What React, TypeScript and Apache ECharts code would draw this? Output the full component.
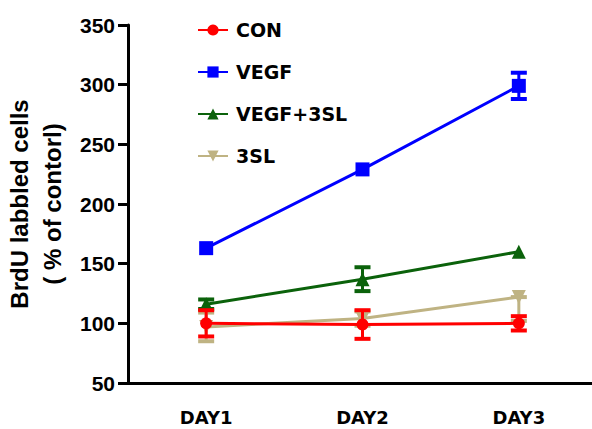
import React, { useEffect, useRef } from "react";
import * as echarts from "echarts";

const categories = ["DAY1", "DAY2", "DAY3"];
const yTicks = [50, 100, 150, 200, 250, 300, 350];

const conMean = [100, 99, 100];
const conErrUp = [11, 12, 6];
const conErrDown = [11, 12, 6];

const vegfMean = [163, 229, 299];
const vegfErrUp = [0, 0, 11];
const vegfErrDown = [0, 0, 11];

const combMean = [116, 137, 160];
const combErrUp = [4, 10, 0];
const combErrDown = [4, 10, 0];

const slMean = [97, 104, 122];
const slErrUp = [12, 6, 0];
const slErrDown = [12, 6, 20];

const seriesNames = ["CON", "VEGF", "VEGF+3SL", "3SL"];
const colors = ["#ff0000", "#0000ff", "#0b620b", "#bfb383"];

function errData(mean: number[], up: number[], down: number[]) {
  return mean.map((m, i) => [i, m - down[i], m + up[i]]);
}

function errSeries(name: string, color: string, data: number[][], z: number) {
  return {
    type: "custom",
    name: name + " err",
    z,
    data,
    renderItem: (params: any, api: any) => {
      const lo = api.coord([api.value(0), api.value(1)]);
      const hi = api.coord([api.value(0), api.value(2)]);
      const x = lo[0];
      const hw = 8;
      const style = { stroke: color, lineWidth: 3 };
      const children: any[] = [
        { type: "line", shape: { x1: x, y1: lo[1], x2: x, y2: hi[1] }, style },
      ];
      if (api.value(2) !== api.value(1)) {
        children.push({ type: "line", shape: { x1: x - hw, y1: lo[1], x2: x + hw, y2: lo[1] }, style: { stroke: color, lineWidth: 4 } });
        children.push({ type: "line", shape: { x1: x - hw, y1: hi[1], x2: x + hw, y2: hi[1] }, style: { stroke: color, lineWidth: 4 } });
      }
      return { type: "group", children };
    },
  };
}

export default function App() {
  const ref = useRef<HTMLDivElement>(null);
  useEffect(() => {
    if (!ref.current) return;
    const chart = echarts.init(ref.current, null, { renderer: "svg" });
    const means = [conMean, vegfMean, combMean, slMean];
    const symbols = ["circle", "rect", "triangle", "triangle"];
    const sizes = [12, 14, 14, 14];
    const rot = [0, 0, 0, 180];
    const zs = [6, 5, 4, 3];
    const lineSeries = seriesNames.map((n, k) => ({
      type: "line",
      name: n,
      data: means[k],
      symbol: symbols[k],
      symbolSize: sizes[k],
      symbolRotate: rot[k],
      z: zs[k],
      itemStyle: { color: colors[k] },
      lineStyle: { color: colors[k], width: 3 },
    }));
    const errs = [
      errSeries("CON", colors[0], errData(conMean, conErrUp, conErrDown), 6),
      errSeries("VEGF", colors[1], errData(vegfMean, vegfErrUp, vegfErrDown), 5),
      errSeries("VEGF+3SL", colors[2], errData(combMean, combErrUp, combErrDown), 4),
      errSeries("3SL", colors[3], errData(slMean, slErrUp, slErrDown), 3),
    ];
    chart.setOption({
      animation: false,
      backgroundColor: "#ffffff",
      grid: { left: 128, right: -5, top: 25, bottom: 46, containLabel: false, outerBoundsMode: "none" },
      legend: {
        data: seriesNames,
        orient: "vertical",
        left: 192,
        top: 14,
        itemWidth: 30,
        itemHeight: 14,
        itemGap: 20,
        textStyle: {
          fontFamily: "DejaVu Sans",
          fontWeight: "bold",
          fontSize: 19,
          color: "#000",
          lineHeight: 22,
          padding: [0, 0, 0, 3],
        },
      },
      xAxis: {
        type: "category",
        data: categories,
        boundaryGap: true,
        axisLine: { lineStyle: { color: "#000", width: 3 } },
        axisTick: { alignWithLabel: true, length: 10, lineStyle: { color: "#000", width: 3 } },
        axisLabel: {
          margin: 25,
          fontFamily: "DejaVu Sans",
          fontWeight: "bold",
          fontSize: 18,
          lineHeight: 18,
          verticalAlign: "top",
          color: "#000",
        },
        splitLine: { show: false },
      },
      yAxis: {
        type: "value",
        min: yTicks[0],
        max: yTicks[yTicks.length - 1],
        interval: 50,
        name: "BrdU labbled cells\n( % of contorl)",
        nameLocation: "middle",
        nameRotate: 90,
        nameGap: 51,
        nameTextStyle: {
          fontFamily: "Liberation Sans",
          fontWeight: "bold",
          fontSize: 24,
          lineHeight: 33,
          color: "#000",
        },
        axisLine: { show: true, lineStyle: { color: "#000", width: 3 } },
        axisTick: { show: true, length: 10, lineStyle: { color: "#000", width: 3 } },
        axisLabel: {
          margin: 13,
          fontFamily: "Liberation Sans",
          fontWeight: "bold",
          fontSize: 21,
          color: "#000",
        },
        splitLine: { show: false },
      },
      series: [...errs, ...lineSeries],
    });
    return () => chart.dispose();
  }, []);
  return (
    <div
      ref={ref}
      style={{ position: "absolute", left: 0, top: 0, width: 592, height: 429 }}
    />
  );
}
